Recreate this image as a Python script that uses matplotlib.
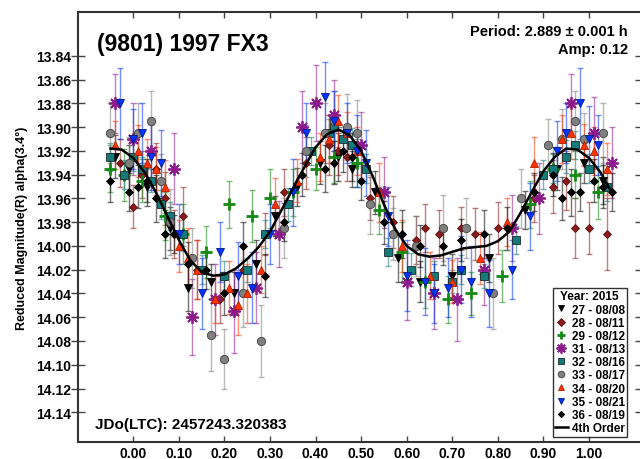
import numpy as np
import matplotlib
matplotlib.use('Agg')
import matplotlib.pyplot as plt
from matplotlib.lines import Line2D

plt.rcParams['font.family'] = ['Liberation Sans', 'DejaVu Sans']
plt.rcParams['font.weight'] = 'bold'

# session data: phase, reduced magnitude, error
ph27 = [-0.04, -0.01, 0.03, 0.08, 0.12, 0.17, 0.22, 0.27, 0.31, 0.36, 0.41, 0.45, 0.48, 0.53, 0.58, 0.63, 0.70, 0.78, 0.86, 0.93, 0.99, 1.03]
mag27 = [13.925, 13.935, 13.950, 13.985, 14.035, 14.030, 14.040, 14.015, 13.975, 13.950, 13.930, 13.925, 13.935, 13.955, 14.010, 14.030, 14.025, 14.010, 13.970, 13.935, 13.930, 13.945]
err27 = [0.018, 0.020, 0.016, 0.018, 0.020, 0.015, 0.018, 0.020, 0.017, 0.016, 0.018, 0.020, 0.015, 0.018, 0.020, 0.017, 0.018, 0.020, 0.016, 0.018, 0.017, 0.020]

ph28 = [-0.03, 0.00, 0.05, 0.09, 0.14, 0.19, 0.24, 0.29, 0.33, 0.38, 0.43, 0.47, 0.52, 0.57, 0.62, 0.67, 0.72, 0.80, 0.88, 0.95, 1.00, 1.04,
        0.02, 0.07, 0.11, 0.45, 0.92, 0.97, 0.64, 0.75]
mag28 = [13.930, 13.967, 13.935, 13.990, 14.020, 14.045, 14.020, 13.990, 13.955, 13.930, 13.915, 13.925, 13.960, 13.980, 13.995, 13.990, 13.985, 13.985, 13.960, 13.945, 13.985, 13.990,
         13.940, 13.960, 13.975, 13.920, 13.950, 13.985, 13.985, 13.990]
err28 = [0.020, 0.018, 0.022, 0.020, 0.025, 0.020, 0.022, 0.018, 0.020, 0.022, 0.025, 0.020, 0.018, 0.022, 0.020, 0.020, 0.018, 0.022, 0.020, 0.025, 0.022, 0.030,
         0.020, 0.022, 0.025, 0.020, 0.022, 0.025, 0.020, 0.022]

ph29 = [-0.05, -0.02, 0.02, 0.07, 0.11, 0.16, 0.21, 0.26, 0.30, 0.35, 0.40, 0.44, 0.49, 0.54, 0.59, 0.64, 0.69, 0.74, 0.81, 0.87, 0.92, 0.97, 1.02]
mag29 = [13.935, 13.940, 13.945, 13.975, 13.990, 14.005, 13.965, 13.975, 13.960, 13.955, 13.935, 13.925, 13.930, 13.970, 14.005, 14.030, 14.045, 14.040, 14.025, 13.965, 13.935, 13.940, 13.955]
err29 = [0.020, 0.022, 0.018, 0.020, 0.025, 0.022, 0.020, 0.022, 0.025, 0.020, 0.018, 0.022, 0.020, 0.020, 0.025, 0.022, 0.020, 0.018, 0.022, 0.020, 0.018, 0.020, 0.022]

ph31 = [-0.04, 0.00, 0.04, 0.09, 0.13, 0.18, 0.22, 0.27, 0.32, 0.37, 0.40, 0.44, 0.50, 0.55, 0.60, 0.66, 0.71, 0.77, 0.83, 0.89, 0.96, 1.01, 1.05]
mag31 = [13.880, 13.910, 13.920, 13.935, 14.060, 14.045, 14.055, 14.035, 13.990, 13.900, 13.880, 13.890, 13.915, 13.955, 14.030, 14.040, 14.045, 14.020, 13.985, 13.960, 13.880, 13.905, 13.930]
err31 = [0.025, 0.030, 0.028, 0.030, 0.032, 0.030, 0.035, 0.030, 0.028, 0.030, 0.032, 0.030, 0.028, 0.030, 0.032, 0.030, 0.035, 0.030, 0.028, 0.030, 0.025, 0.030, 0.030]

ph32 = [-0.05, -0.02, 0.02, 0.06, 0.11, 0.15, 0.20, 0.25, 0.29, 0.34, 0.39, 0.43, 0.46, 0.51, 0.56, 0.61, 0.66, 0.72, 0.77, 0.84, 0.90, 0.95, 1.00, 1.04,
        0.00, 0.04, 0.08, 0.44, 0.48, 0.92, 0.97, 0.70]
mag32 = [13.925, 13.940, 13.935, 13.965, 13.990, 14.020, 14.025, 14.020, 13.990, 13.965, 13.920, 13.905, 13.910, 13.935, 14.005, 14.020, 14.025, 14.020, 14.025, 13.995, 13.940, 13.925, 13.935, 13.950,
         13.925, 13.945, 13.975, 13.900, 13.915, 13.935, 13.915, 14.030]
err32 = [0.012, 0.012, 0.010, 0.012, 0.014, 0.012, 0.012, 0.010, 0.012, 0.014, 0.012, 0.012, 0.010, 0.012, 0.012, 0.014, 0.012, 0.012, 0.010, 0.012, 0.012, 0.014, 0.012, 0.012,
         0.012, 0.010, 0.012, 0.012, 0.014, 0.012, 0.012, 0.010]

ph33 = [-0.05, -0.01, 0.04, 0.08, 0.13, 0.17, 0.20, 0.24, 0.28, 0.33, 0.38, 0.42, 0.47, 0.52, 0.57, 0.62, 0.68, 0.73, 0.79, 0.85, 0.91, 0.97, 1.03,
        0.01, 0.06, 0.44, 0.49, 0.94, 0.99]
mag33 = [13.905, 13.930, 13.895, 13.980, 14.010, 14.075, 14.095, 14.040, 14.080, 13.985, 13.920, 13.905, 13.900, 13.965, 13.990, 14.000, 13.985, 13.985, 14.040, 13.960, 13.915, 13.895, 13.905,
         13.905, 13.945, 13.895, 13.905, 13.910, 13.910]
err33 = [0.025, 0.022, 0.025, 0.028, 0.025, 0.030, 0.025, 0.028, 0.030, 0.025, 0.022, 0.025, 0.028, 0.025, 0.022, 0.025, 0.028, 0.025, 0.030, 0.025, 0.022, 0.025, 0.025,
         0.025, 0.022, 0.025, 0.028, 0.025, 0.022]

ph34 = [-0.04, 0.01, 0.05, 0.10, 0.14, 0.18, 0.21, 0.25, 0.28, 0.31, 0.36, 0.41, 0.45, 0.49, 0.54, 0.59, 0.65, 0.70, 0.76, 0.82, 0.88, 0.94, 0.99, 1.04,
        0.03, 0.07, 0.12, 0.43, 0.47, 0.96, 1.01, 0.23]
mag34 = [13.915, 13.920, 13.935, 14.000, 14.020, 14.045, 14.035, 14.040, 14.020, 13.965, 13.945, 13.925, 13.895, 13.920, 13.955, 14.000, 14.025, 14.030, 14.010, 13.980, 13.930, 13.910, 13.915, 13.935,
         13.930, 13.950, 14.010, 13.910, 13.905, 13.905, 13.920, 14.050]
err34 = [0.020, 0.022, 0.018, 0.022, 0.025, 0.020, 0.022, 0.025, 0.020, 0.022, 0.018, 0.020, 0.022, 0.020, 0.025, 0.022, 0.020, 0.018, 0.022, 0.020, 0.022, 0.020, 0.018, 0.022,
         0.020, 0.022, 0.025, 0.020, 0.018, 0.022, 0.020, 0.025]

ph35 = [-0.03, 0.02, 0.06, 0.10, 0.15, 0.19, 0.23, 0.26, 0.30, 0.35, 0.38, 0.42, 0.47, 0.51, 0.56, 0.60, 0.64, 0.69, 0.74, 0.78, 0.83, 0.87, 0.93, 0.98, 1.02,
        0.00, 0.04, 0.44, 0.49, 0.95, 1.00, 0.66, 0.72]
mag35 = [13.880, 13.905, 13.930, 13.990, 14.040, 14.005, 14.025, 14.035, 13.990, 13.955, 13.905, 13.875, 13.905, 13.930, 13.975, 14.025, 14.030, 14.035, 14.030, 14.040, 14.020, 13.975, 13.920, 13.880, 13.915,
         13.910, 13.925, 13.895, 13.920, 13.905, 13.910, 14.040, 14.020]
err35 = [0.030, 0.025, 0.028, 0.025, 0.030, 0.025, 0.028, 0.030, 0.025, 0.028, 0.025, 0.030, 0.025, 0.028, 0.025, 0.030, 0.028, 0.025, 0.030, 0.028, 0.025, 0.028, 0.025, 0.030, 0.025,
         0.025, 0.028, 0.025, 0.030, 0.025, 0.028, 0.025, 0.028]

ph36 = [-0.05, -0.01, 0.03, 0.07, 0.12, 0.16, 0.20, 0.24, 0.29, 0.33, 0.37, 0.42, 0.46, 0.50, 0.55, 0.59, 0.63, 0.68, 0.72, 0.77, 0.82, 0.88, 0.92, 0.96, 1.01, 1.05,
        0.01, 0.05, 0.09, 0.44, 0.48, 0.94, 0.98, 1.03]
mag36 = [13.945, 13.955, 13.945, 13.990, 14.015, 14.020, 14.040, 14.000, 14.025, 13.980, 13.940, 13.935, 13.920, 13.945, 13.980, 13.990, 14.000, 14.000, 13.995, 13.990, 13.985, 13.955, 13.940, 13.955, 13.945, 13.955,
         13.950, 13.960, 13.990, 13.930, 13.925, 13.960, 13.955, 13.950]
err36 = [0.018, 0.016, 0.018, 0.020, 0.018, 0.016, 0.018, 0.020, 0.018, 0.016, 0.018, 0.020, 0.018, 0.016, 0.018, 0.020, 0.018, 0.016, 0.018, 0.020, 0.018, 0.016, 0.018, 0.020, 0.018, 0.016,
         0.018, 0.020, 0.016, 0.018, 0.020, 0.018, 0.016, 0.018]

# 4th order fourier fit
fit_phase = [-0.050, -0.025, 0.000, 0.025, 0.050, 0.075, 0.100, 0.125, 0.150, 0.175, 0.200, 0.225, 0.250, 0.275, 0.300, 0.325, 0.350, 0.375, 0.400, 0.425, 0.450, 0.475, 0.500, 0.525, 0.550, 0.575, 0.600, 0.625, 0.650, 0.675, 0.700, 0.725, 0.750, 0.775, 0.800, 0.825, 0.850, 0.875, 0.900, 0.925, 0.950, 0.975, 1.000, 1.025, 1.050]
fit_mag = [13.918, 13.919, 13.926, 13.938, 13.955, 13.975, 13.995, 14.012, 14.022, 14.025, 14.024, 14.019, 14.011, 14.001, 13.988, 13.970, 13.952, 13.934, 13.917, 13.906, 13.902, 13.907, 13.920, 13.941, 13.965, 13.986, 14.000, 14.007, 14.009, 14.008, 14.005, 14.002, 14.001, 14.000, 13.996, 13.988, 13.972, 13.954, 13.937, 13.925, 13.918, 13.919, 13.926, 13.938, 13.955]

sessions = [
    ('27 - 08/08', ph27, mag27, err27, 'v', '#000000', '#000000', 6),
    ('28 - 08/11', ph28, mag28, err28, 'D', '#8B1A1A', '#5a0f0f', 4.5),
    ('29 - 08/12', ph29, mag29, err29, '+', '#138a13', '#138a13', 8),
    ('31 - 08/13', ph31, mag31, err31, (8, 2, 0), '#8B1A8B', '#8B1A8B', 9),
    ('32 - 08/16', ph32, mag32, err32, 's', '#147a7a', '#1a2a2a', 6),
    ('33 - 08/17', ph33, mag33, err33, 'o', '#808080', '#404040', 6),
    ('34 - 08/20', ph34, mag34, err34, '^', '#FF3300', '#b02000', 6),
    ('35 - 08/21', ph35, mag35, err35, 'v', '#0033FF', '#001a80', 6),
    ('36 - 08/19', ph36, mag36, err36, 'D', '#000000', '#000000', 4),
]

fig = plt.figure(figsize=(6.4, 4.6), dpi=100)
ax = fig.add_axes([0.122, 0.037, 0.881, 0.935])

handles = []
for lab, x, y, e, m, c, ec, ms in sessions:
    mew = 2 if m == '+' else (1.3 if m == (8, 2, 0) else 0.6)
    ax.errorbar(x, y, yerr=e, fmt='none', ecolor=c, alpha=0.55, elinewidth=1, capsize=2.5, capthick=1, zorder=2)
    ax.plot(x, y, linestyle='none', marker=m, color=c, markeredgecolor=ec, markersize=ms, markeredgewidth=mew, zorder=3)
    handles.append(Line2D([], [], linestyle='none', marker=m, color=c, markeredgecolor=ec,
                          markersize=ms * 0.8, markeredgewidth=mew))

ax.plot(fit_phase, fit_mag, color='black', lw=1.8, zorder=4)
handles.append(Line2D([], [], color='black', lw=1.8))
labels = [s[0] for s in sessions] + ['4th Order']

ax.set_xlim(-0.121, 1.116)
ax.set_ylim(14.165, 13.803)
ax.set_xticks([0.0, 0.1, 0.2, 0.3, 0.4, 0.5, 0.6, 0.7, 0.8, 0.9, 1.0])
ax.set_xticklabels(['0.00', '0.10', '0.20', '0.30', '0.40', '0.50', '0.60', '0.70', '0.80', '0.90', '1.00'])
yt = [13.84, 13.86, 13.88, 13.90, 13.92, 13.94, 13.96, 13.98, 14.00, 14.02, 14.04, 14.06, 14.08, 14.10, 14.12, 14.14]
ax.set_yticks(yt)
ax.set_yticklabels(['%.2f' % v for v in yt])
ax.tick_params(axis='x', direction='in', top=True, length=4.5, width=1, labelsize=10, pad=3, color='#444444')
ax.tick_params(axis='y', direction='inout', right=True, length=10, width=1, labelsize=10, pad=0, color='#444444')
for s in ax.spines.values():
    s.set_linewidth(1.5)
    s.set_color('#333333')

ax.set_ylabel('Reduced Magnitude(R) alpha(3.4°)', fontsize=9, fontweight='bold', labelpad=2)
ax.yaxis.set_label_coords(-0.088, 0.5)

fig.text(97 / 640, 1 - 44 / 460, '(9801) 1997 FX3', fontsize=16.5, fontweight='bold', va='center', ha='left')
fig.text(628 / 640, 1 - 32 / 460, 'Period: 2.889 ± 0.001 h', fontsize=10.5, fontweight='bold', va='center', ha='right')
fig.text(628 / 640, 1 - 50 / 460, 'Amp: 0.12', fontsize=10.5, fontweight='bold', va='center', ha='right')
fig.text(95 / 640, 1 - 425 / 460, 'JDo(LTC): 2457243.320383', fontsize=11, fontweight='bold', va='center', ha='left')

leg = fig.legend(handles, labels, title='Year: 2015', loc='upper right',
                 bbox_to_anchor=(627 / 640, 1 - 289 / 460), fontsize=8.5,
                 title_fontproperties={'weight': 'bold', 'size': 8.5},
                 frameon=True, fancybox=False, shadow=False, edgecolor='black',
                 handlelength=1.1, handletextpad=0.3, labelspacing=0.1,
                 borderpad=0.2, borderaxespad=0)
leg.get_frame().set_linewidth(1)
leg.set_zorder(10)

fig.savefig('out.png', dpi=100)
